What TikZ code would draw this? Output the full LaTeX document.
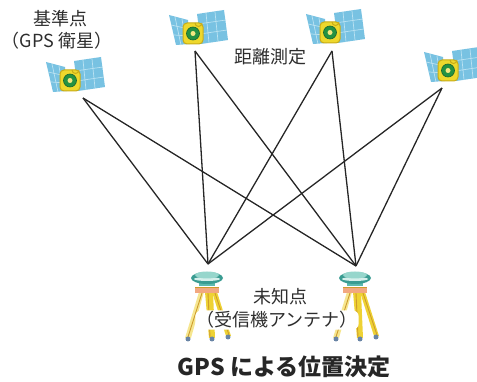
\documentclass[tikz,border=0pt]{standalone}
\usepackage{fontspec}
\setmainfont{Noto Sans CJK JP}
\usetikzlibrary{positioning}

\definecolor{panel}{RGB}{120,194,226}
\definecolor{panelgrid}{RGB}{186,226,242}
\definecolor{bodyyel}{RGB}{238,216,44}
\definecolor{bodyedge}{RGB}{200,172,24}
\definecolor{core}{RGB}{36,146,66}
\definecolor{dome}{RGB}{58,156,146}
\definecolor{domecap}{RGB}{150,214,204}
\definecolor{neck}{RGB}{92,186,174}
\definecolor{plate}{RGB}{242,168,128}
\definecolor{leg}{RGB}{238,210,52}
\definecolor{legdark}{RGB}{206,156,44}
\definecolor{foot}{RGB}{104,132,165}
\definecolor{ink}{RGB}{45,45,45}

\begin{document}
\begin{tikzpicture}[x=1pt, y=-1pt,
  txt/.style={text=ink, font=\fontsize{18}{20}\selectfont, inner sep=1pt},
  captext/.style={text=black!85, font=\fontsize{23}{25}\selectfont\bfseries},
  rangeline/.style={draw=black!85, line width=1.3pt},
  satellite/.pic={
    % solar panels
    \fill[panel] (-24,-18) -- (-5,-13) -- (-3,11) -- (-17,12) -- cycle;
    \fill[panel] (4,-19) -- (31,-23) -- (35,7) -- (8,11) -- cycle;
    \draw[panelgrid, line width=0.7pt]
      (-18,-16) -- (-12,12) (-11,-14) -- (-7,11)
      (-22,-8) -- (-4,-4) (-19,2) -- (-3,3)
      (13,-20) -- (16,10) (22,-21) -- (25,8)
      (5,-9) -- (33,-13) (7,1) -- (34,-3);
    % body
    \filldraw[fill=bodyyel, draw=bodyedge, line width=1pt, rounded corners=4pt]
      (-10,-10) rectangle (10,11);
    \draw[bodyedge, line width=1pt] (2,-10) arc (180:0:3.5);
    \filldraw[fill=core, draw=core!70!black, line width=0.6pt] (0,0.5) circle (6.5);
    \fill[bodyyel!60!white] (0,0.5) circle (2.5);
  },
  tripod/.pic={
    % legs
    \fill[leg!55!white] (-8,22) -- (-3,22) -- (-16,68) -- (-22,68) -- cycle;
    \fill[leg] (-2,22) -- (6,22) -- (8,68) -- (2,68) -- cycle;
    \fill[leg] (5,22) -- (10,22) -- (24,66) -- (19,66) -- cycle;
    \draw[legdark, line width=0.9pt] (-5,23) -- (-19,67) (1,23) -- (3,67) (8,23) -- (22,65);
    % feet
    \fill[foot] (-19,69) circle (2.5) (5,69) circle (2.5) (21,67) circle (2.5);
    % head and plate
    \fill[plate] (-12,17) rectangle (12,23);
    \draw[legdark, line width=0.6pt] (-12,17) -- (12,17);
    \fill[neck] (-8,12) rectangle (8,16);
    % antenna
    \fill[dome] (0,8) ellipse (16 and 6);
    \fill[white!60!domecap] (0,9) ellipse (13 and 2);
    \fill[domecap] (0,5) ellipse (12 and 3.5);
  }
]
\useasboundingbox (0,0) rectangle (477,382);

% Satellites
\pic at (70,80) {satellite};
\pic at (193,33) {satellite};
\pic at (330,32) {satellite};
\pic at (448,70) {satellite};

% Receivers
\pic at (207,270) {tripod};
\pic at (355,270) {tripod};

% Link ends
\coordinate (s1) at (83,98);
\coordinate (s2) at (195,51);
\coordinate (s3) at (332,51);
\coordinate (s4) at (442,88);
\coordinate (r1) at (208,264);
\coordinate (r2) at (356,266);

% Labels
\node[txt] (ref) at (60,19) {基準点};
\node[txt] (refsub) at (57,41) {（GPS 衛星）};
\node[txt] (dist) at (270,57) {距離測定};
\node[txt] (unk) at (280,297) {未知点};
\node[txt, fill=white, rounded corners=6pt] (unksub) at (277,320) {（受信機アンテナ）};
\node[captext] (cap) at (284,367) {GPS による位置決定};

% Ranges
\foreach \s in {s1,s2,s3,s4}
  \foreach \r in {r1,r2}
    \draw[rangeline] (\s) -- (\r);

\end{tikzpicture}
\end{document}
